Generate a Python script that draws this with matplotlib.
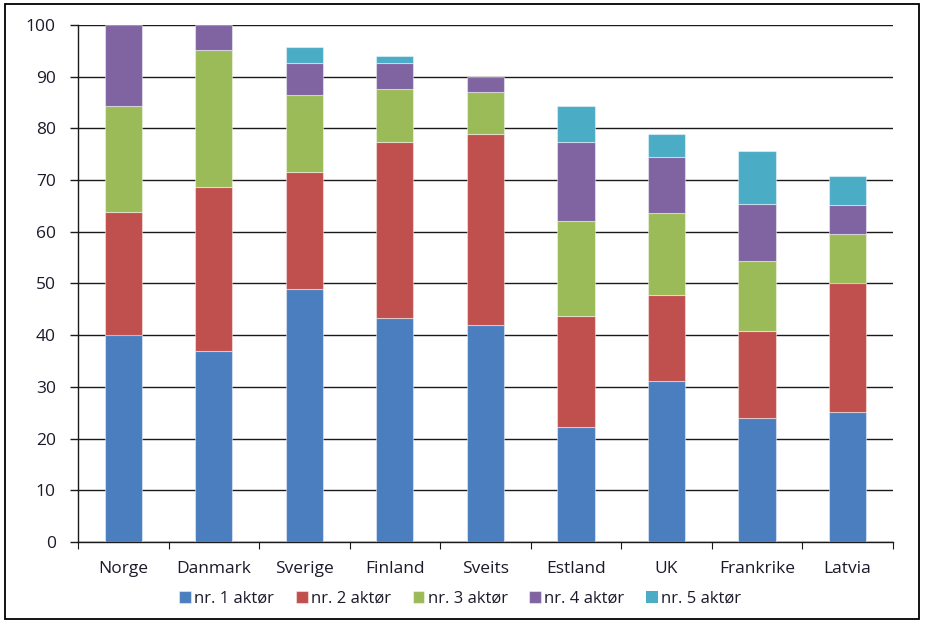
import matplotlib
matplotlib.use('Agg')
import matplotlib.pyplot as plt
import numpy as np
from matplotlib.patches import Rectangle

plt.rcParams['font.family'] = ['Open Sans', 'DejaVu Sans']

countries = ['Norge', 'Danmark', 'Sverige', 'Finland', 'Sveits', 'Estland', 'UK', 'Frankrike', 'Latvia']
series_names = ['nr. 1 aktør', 'nr. 2 aktør', 'nr. 3 aktør', 'nr. 4 aktør', 'nr. 5 aktør']

# segment values (percent)
nr1 = [40.0, 36.9, 48.9, 43.3, 42.0, 22.2, 31.1, 23.9, 25.1]
nr2 = [23.9, 31.8, 22.7, 34.1, 36.9, 21.5, 16.7, 16.9, 24.9]
nr3 = [20.4, 26.5, 14.9, 10.2, 8.1, 18.3, 15.9, 13.6, 9.5]
nr4 = [15.7, 4.8, 6.2, 5.0, 3.0, 15.3, 10.8, 11.0, 5.7]
nr5 = [0.0, 0.0, 3.1, 1.3, 0.0, 7.0, 4.4, 10.3, 5.6]

colors = ['#4A7EBE', '#C0504D', '#9BBB59', '#8064A2', '#4BACC6']

fig = plt.figure(figsize=(9.26, 6.26), dpi=100)
ax = fig.add_axes([0.0842, 0.1342, 0.880, 0.826])

x = np.arange(len(countries))
bottom = np.zeros(len(countries))
for vals, name, col in zip([nr1, nr2, nr3, nr4, nr5], series_names, colors):
    vals = np.array(vals)
    ax.bar(x, vals, width=0.41, bottom=bottom, color=col, label=name,
           edgecolor=(1, 1, 1, 0.45), linewidth=0.8 * (vals > 0), zorder=3)
    bottom += vals

ax.set_xlim(-0.5, len(countries) - 0.5)
ax.set_ylim(0, 100)
ax.set_yticks(np.arange(0, 101, 10))
ax.grid(axis='y', color='#1a1a1a', linewidth=1.0, zorder=0)
ax.set_axisbelow(True)

for s in ['top', 'right']:
    ax.spines[s].set_visible(False)
for s in ['left', 'bottom']:
    ax.spines[s].set_color('#1a1a1a')
    ax.spines[s].set_linewidth(1.0)

ax.set_xticks(np.arange(-0.5, len(countries), 1.0))
ax.set_xticklabels([])
ax.set_xticks(x, minor=True)
ax.set_xticklabels(countries, minor=True)
ax.tick_params(axis='x', which='major', direction='out', length=5, width=0.8, color='#1a1a1a')
ax.tick_params(axis='x', which='minor', length=0, pad=14, labelsize=12.5, labelcolor='#1a1a2a')
ax.tick_params(axis='y', direction='out', length=6, width=1.0, color='#1a1a1a',
               labelsize=12.5, labelcolor='#1a1a2a', pad=10)

fig.legend(loc='center', bbox_to_anchor=(0.497, 0.043), ncol=5, frameon=False,
           fontsize=12, handlelength=0.7, handleheight=0.7, handletextpad=0.2,
           columnspacing=1.3, labelcolor='#1a1a2a')

# outer frame
fig.patches.append(Rectangle((5 / 926, 1 - 619 / 626), 914 / 926, 615 / 626,
                             transform=fig.transFigure, fill=False,
                             edgecolor='black', linewidth=1.3))

fig.savefig('out.png', dpi=100)
